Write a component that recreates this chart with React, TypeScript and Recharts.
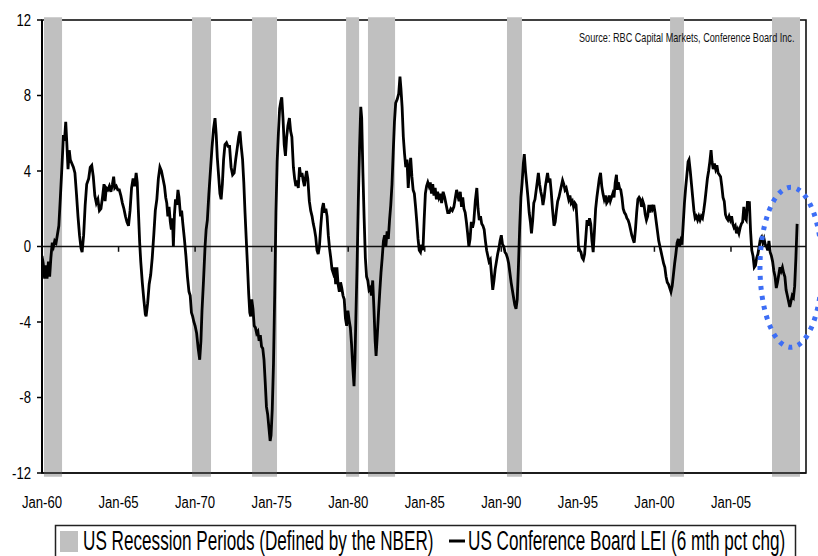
import {
  Line,
  LineChart,
  ReferenceArea,
  ReferenceDot,
  ReferenceLine,
  XAxis,
  YAxis,
} from 'recharts';

// month positions as decimal years
const dates = [
  1960.0, 1960.08, 1960.17, 1960.25, 1960.33, 1960.42, 1960.5, 1960.58, 1960.67, 1960.75, 1960.83, 1960.92,
  1961.0, 1961.1, 1961.2, 1961.3, 1961.4, 1961.47, 1961.55, 1961.62, 1961.7, 1961.78, 1961.85, 1961.95,
  1962.05, 1962.15, 1962.25, 1962.35, 1962.45, 1962.55, 1962.62, 1962.72, 1962.82, 1962.92,
  1963.05, 1963.15, 1963.25, 1963.35, 1963.45, 1963.55, 1963.65, 1963.75, 1963.85, 1963.95,
  1964.05, 1964.12, 1964.2, 1964.3, 1964.4, 1964.5, 1964.6, 1964.68, 1964.75, 1964.85, 1964.95,
  1965.05, 1965.15, 1965.25, 1965.35, 1965.45, 1965.55, 1965.65, 1965.75, 1965.85, 1965.95,
  1966.05, 1966.15, 1966.22, 1966.3, 1966.38, 1966.45, 1966.55, 1966.65, 1966.75, 1966.8, 1966.9,
  1967.0, 1967.1, 1967.2, 1967.3, 1967.4, 1967.5, 1967.6, 1967.7, 1967.8, 1967.9,
  1968.0, 1968.08, 1968.15, 1968.22, 1968.3, 1968.38, 1968.45, 1968.52, 1968.58, 1968.65, 1968.72, 1968.8, 1968.88, 1968.95,
  1969.05, 1969.12, 1969.2, 1969.3, 1969.4, 1969.5, 1969.6, 1969.68, 1969.76, 1969.84, 1969.92,
  1970.0, 1970.1, 1970.2, 1970.3, 1970.38, 1970.45, 1970.55, 1970.65, 1970.72, 1970.8, 1970.9,
  1971.0, 1971.1, 1971.2, 1971.3, 1971.38, 1971.45, 1971.55, 1971.62, 1971.7, 1971.78, 1971.86, 1971.95,
  1972.05, 1972.15, 1972.25, 1972.35, 1972.45, 1972.55, 1972.65, 1972.75, 1972.85, 1972.93,
  1973.0, 1973.1, 1973.18, 1973.26, 1973.34, 1973.42, 1973.5, 1973.57, 1973.63, 1973.7, 1973.78, 1973.86, 1973.94,
  1974.02, 1974.1, 1974.18, 1974.26, 1974.34, 1974.42, 1974.5, 1974.58, 1974.66, 1974.74, 1974.82, 1974.9, 1974.96,
  1975.04, 1975.12, 1975.2, 1975.28, 1975.36, 1975.44, 1975.52, 1975.6, 1975.66, 1975.74, 1975.82, 1975.9, 1975.98,
  1976.06, 1976.16, 1976.24, 1976.32, 1976.42, 1976.5, 1976.58, 1976.66, 1976.74, 1976.82, 1976.9, 1976.98,
  1977.06, 1977.14, 1977.2, 1977.28, 1977.36, 1977.46, 1977.55, 1977.64, 1977.72, 1977.8, 1977.88, 1977.96,
  1978.04, 1978.12, 1978.2, 1978.3, 1978.38, 1978.46, 1978.54, 1978.62, 1978.7, 1978.78, 1978.86, 1978.94,
  1979.02, 1979.1, 1979.18, 1979.26, 1979.34, 1979.42, 1979.5, 1979.58, 1979.66, 1979.74, 1979.82, 1979.9, 1979.98,
  1980.06, 1980.14, 1980.22, 1980.3, 1980.38, 1980.44, 1980.5, 1980.58, 1980.66, 1980.74, 1980.82, 1980.88, 1980.96,
  1981.04, 1981.12, 1981.2, 1981.28, 1981.36, 1981.44, 1981.52, 1981.6, 1981.68, 1981.76, 1981.82, 1981.9, 1981.98,
  1982.06, 1982.14, 1982.22, 1982.3, 1982.38, 1982.46, 1982.54, 1982.62, 1982.7, 1982.78, 1982.86, 1982.94,
  1983.02, 1983.1, 1983.2, 1983.3, 1983.38, 1983.44, 1983.52, 1983.6, 1983.68, 1983.76, 1983.84, 1983.92,
  1984.0, 1984.08, 1984.16, 1984.24, 1984.32, 1984.4, 1984.48, 1984.56, 1984.64, 1984.72, 1984.8, 1984.88, 1984.96,
  1985.04, 1985.12, 1985.2, 1985.28, 1985.36, 1985.44, 1985.52, 1985.6, 1985.68, 1985.76, 1985.84, 1985.92,
  1986.0, 1986.1, 1986.2, 1986.3, 1986.4, 1986.5, 1986.6, 1986.7, 1986.8, 1986.9,
  1987.0, 1987.08, 1987.16, 1987.24, 1987.32, 1987.4, 1987.48, 1987.56, 1987.64, 1987.72, 1987.8, 1987.88, 1987.96,
  1988.04, 1988.12, 1988.2, 1988.3, 1988.4, 1988.48, 1988.56, 1988.64, 1988.72, 1988.8, 1988.88, 1988.96,
  1989.04, 1989.12, 1989.2, 1989.28, 1989.36, 1989.44, 1989.52, 1989.6, 1989.68, 1989.76, 1989.84, 1989.92,
  1990.0, 1990.08, 1990.16, 1990.24, 1990.32, 1990.4, 1990.48, 1990.56, 1990.64, 1990.72, 1990.8, 1990.88, 1990.96,
  1991.04, 1991.12, 1991.2, 1991.28, 1991.36, 1991.44, 1991.5, 1991.58, 1991.66, 1991.74, 1991.82, 1991.9, 1991.97,
  1992.05, 1992.12, 1992.2, 1992.28, 1992.36, 1992.42, 1992.5, 1992.58, 1992.66, 1992.72, 1992.8, 1992.88, 1992.96,
  1993.02, 1993.1, 1993.18, 1993.26, 1993.34, 1993.44, 1993.52, 1993.6, 1993.68, 1993.76, 1993.84, 1993.92,
  1994.0, 1994.08, 1994.16, 1994.24, 1994.32, 1994.4, 1994.48, 1994.56, 1994.64, 1994.72, 1994.8, 1994.88, 1994.96,
  1995.04, 1995.12, 1995.2, 1995.28, 1995.36, 1995.44, 1995.52, 1995.6, 1995.68, 1995.76, 1995.84, 1995.92,
  1996.0, 1996.08, 1996.16, 1996.24, 1996.32, 1996.4, 1996.48, 1996.56, 1996.64, 1996.72, 1996.8, 1996.88, 1996.96,
  1997.04, 1997.12, 1997.2, 1997.28, 1997.36, 1997.44, 1997.52, 1997.58, 1997.64, 1997.72, 1997.8, 1997.88, 1997.96,
  1998.04, 1998.12, 1998.2, 1998.28, 1998.36, 1998.44, 1998.52, 1998.6, 1998.68, 1998.76, 1998.84, 1998.92,
  1999.0, 1999.08, 1999.16, 1999.24, 1999.32, 1999.4, 1999.48, 1999.56, 1999.64, 1999.72, 1999.8, 1999.88, 1999.96,
  2000.04, 2000.12, 2000.2, 2000.28, 2000.36, 2000.44, 2000.52, 2000.6, 2000.68, 2000.76, 2000.84, 2000.92,
  2001.0, 2001.08, 2001.16, 2001.24, 2001.32, 2001.4, 2001.48, 2001.56, 2001.64, 2001.72, 2001.8, 2001.88, 2001.96,
  2002.04, 2002.12, 2002.2, 2002.26, 2002.34, 2002.42, 2002.5, 2002.58, 2002.66, 2002.74, 2002.82, 2002.9, 2002.98,
  2003.06, 2003.14, 2003.22, 2003.3, 2003.38, 2003.46, 2003.54, 2003.62, 2003.7, 2003.76, 2003.84, 2003.92,
  2004.0, 2004.08, 2004.16, 2004.24, 2004.32, 2004.4, 2004.48, 2004.56, 2004.64, 2004.72, 2004.8, 2004.88, 2004.96,
  2005.04, 2005.12, 2005.2, 2005.28, 2005.36, 2005.44, 2005.52, 2005.6, 2005.68, 2005.76, 2005.84, 2005.92,
  2006.0, 2006.08, 2006.14, 2006.2, 2006.28, 2006.36, 2006.44, 2006.52, 2006.6, 2006.68, 2006.76, 2006.84, 2006.92,
  2007.0, 2007.08, 2007.16, 2007.24, 2007.32, 2007.4, 2007.48, 2007.56, 2007.64, 2007.72, 2007.8, 2007.88, 2007.96,
  2008.04, 2008.12, 2008.2, 2008.28, 2008.36, 2008.44, 2008.52, 2008.6, 2008.68, 2008.76, 2008.84, 2008.92,
  2009.0, 2009.08, 2009.16, 2009.24, 2009.32,
];

// US Conference Board LEI, 6 month % change
const lei = [
  -0.5, -0.9, -1.7, -1.0, -1.7, -0.8, -1.6, -0.6, 0.2, 0.0, 0.3, 0.2,
  0.6, 1.1, 2.6, 4.2, 5.9, 5.6, 6.6, 5.5, 4.1, 5.1, 4.6, 4.4,
  4.2, 3.9, 2.8, 1.6, 0.6, -0.1, -0.3, 0.6, 2.2, 3.3,
  3.6, 4.2, 4.3, 3.7, 2.7, 2.3, 2.5, 1.9, 2.0, 2.6,
  3.3, 2.4, 3.1, 3.0, 3.2, 2.9, 3.3, 3.7, 3.1, 3.2, 3.0,
  3.0, 2.7, 2.3, 2.0, 1.6, 1.3, 1.1, 1.9, 3.1, 3.6,
  3.2, 3.9, 3.4, 1.8, 0.2, -0.8, -1.9, -2.8, -3.6, -3.7, -3.0,
  -2.0, -1.5, -0.6, 0.6, 1.9, 2.5, 3.6, 4.2, 4.0, 3.6,
  3.2, 2.6, 2.3, 1.6, 2.1, 1.3, 0.9, 1.5, 0.0, 1.7, 2.5, 2.2, 3.0, 2.6,
  1.6, 1.9, 1.2, 0.4, -0.5, -1.6, -2.4, -2.6, -3.5, -3.7, -4.0,
  -4.2, -4.6, -5.4, -6.0, -5.0, -3.4, -1.8, 0.0, 0.9, 1.4, 2.8,
  4.0, 5.2, 6.2, 6.8, 5.9, 4.7, 3.6, 2.8, 2.5, 3.3, 4.6, 5.4,
  5.5, 5.3, 5.3, 4.2, 3.8, 3.9, 4.6, 5.2, 5.8, 6.1,
  5.4, 4.6, 3.4, 1.8, 0.4, -1.0, -2.5, -3.5, -3.7, -2.8, -3.3, -4.2, -4.3,
  -4.6, -4.5, -5.0, -4.7, -5.3, -5.4, -6.0, -7.2, -8.5, -8.9, -9.6, -10.3, -10.0,
  -8.6, -6.2, -2.5, 1.8, 4.5, 6.0, 7.3, 7.7, 7.9, 6.8, 5.4, 4.8, 5.8,
  6.4, 6.8, 6.1, 5.8, 4.2, 3.6, 3.2, 3.5, 3.1, 4.2, 3.7, 3.9,
  3.5, 3.2, 3.6, 4.0, 3.6, 2.4, 1.9, 1.6, 1.2, 0.9, 0.5, -0.2,
  -0.4, 0.0, 1.0, 2.0, 2.3, 1.8, 2.0, 1.6, 0.6, -0.1, -0.6, -1.2,
  -1.4, -1.1, -2.0, -1.1, -2.0, -2.4, -1.9, -2.2, -2.6, -2.8, -3.8, -4.2, -3.4,
  -3.9, -4.3, -5.2, -6.4, -7.4, -6.0, -3.8, -1.0, 2.4, 5.2, 7.4, 6.8, 3.9,
  1.5, -0.6, -1.6, -1.8, -2.3, -2.2, -2.6, -1.8, -3.3, -5.0, -5.8, -4.7, -3.5,
  -2.4, -1.4, -0.6, 0.3, 0.6, 0.0, 0.8, 0.4, 1.4, 2.2, 3.3, 5.0,
  6.6, 7.6, 7.8, 8.1, 9.0, 8.4, 7.4, 5.8, 4.9, 4.2, 4.6, 3.1,
  4.1, 4.7, 3.7, 3.0, 2.8, 2.1, 1.3, 0.4, -0.2, -0.3, 0.1, -0.2, 1.4,
  2.8, 3.2, 3.4, 3.2, 3.4, 2.8, 3.3, 2.7, 3.1, 2.5, 2.9, 2.6,
  2.8, 2.3, 2.9, 2.6, 2.2, 1.8, 1.8, 2.0, 1.9, 2.1,
  2.6, 3.0, 2.7, 2.4, 2.9, 2.1, 2.6, 2.0, 1.8, 1.3, 0.7, 0.0, 0.4,
  1.3, 1.0, 1.3, 2.4, 3.1, 2.0, 1.4, 1.6, 1.2, 1.1, 0.9, 0.3,
  -0.2, -0.5, -0.8, -0.7, -1.5, -2.3, -1.8, -1.2, -0.8, -0.4, -0.1, 0.3,
  0.6, 0.1, 0.0, -0.3, -0.4, -0.6, -0.9, -1.4, -1.9, -2.3, -2.7, -3.1, -3.3,
  -2.8, -1.0, 1.0, 2.6, 3.4, 4.4, 4.9, 4.0, 3.3, 2.6, 1.8, 1.3, 0.7,
  1.4, 2.3, 2.5, 3.0, 3.5, 3.9, 3.3, 2.9, 2.6, 2.2, 2.6, 3.2, 3.6,
  3.9, 3.4, 3.6, 2.9, 2.0, 1.1, 1.3, 1.9, 2.4, 2.6, 2.9, 3.2,
  3.5, 3.3, 3.0, 3.1, 2.8, 2.5, 2.7, 2.3, 2.4, 2.1, 2.3, 2.2, 1.2,
  0.0, -0.2, -0.3, -0.6, -0.7, -0.4, 0.5, 1.4, 1.1, 1.5, 1.2, 0.3,
  -0.3, 0.8, 2.0, 2.6, 3.1, 3.6, 3.9, 3.2, 2.8, 2.5, 2.7, 2.3, 2.4,
  2.7, 2.4, 2.6, 2.8, 2.6, 3.4, 3.8, 3.0, 3.4, 3.1, 3.0, 2.6, 2.0,
  1.8, 1.7, 1.5, 1.4, 1.2, 0.9, 0.6, 0.4, 0.2, 0.9, 1.8, 2.5,
  2.6, 2.5, 2.1, 2.4, 2.2, 1.7, 1.4, 1.6, 2.2, 1.8, 2.2, 2.0, 2.2,
  1.8, 1.3, 0.8, 0.3, 0.0, -0.3, -0.6, -0.9, -1.1, -1.6, -1.9, -2.0,
  -2.2, -2.4, -2.1, -1.5, -0.9, -0.4, 0.2, 0.4, 0.0, 0.3, 0.1, 1.2, 2.3,
  3.1, 3.8, 4.5, 4.6, 4.0, 3.3, 2.6, 1.9, 1.5, 1.6, 1.4, 1.6, 1.4,
  1.6, 1.5, 1.9, 2.4, 3.0, 3.6, 4.0, 4.5, 5.1, 4.5, 4.1, 4.4,
  4.1, 4.3, 3.9, 3.8, 3.7, 3.2, 2.6, 2.4, 1.7, 1.5, 1.4, 1.6, 1.4,
  1.6, 1.2, 1.0, 1.1, 0.7, 0.9, 0.7, 1.0, 1.2, 1.3, 2.1, 1.5,
  1.4, 2.4, 1.9, 2.4, 0.8, -0.2, -0.5, -1.1, -1.0, -0.6, -0.4, 0.0, 0.4,
  0.5, 0.2, 0.4, 0.1, 0.0, -0.2, 0.3, -0.3, -0.5, -0.8, -1.3, -1.6, -2.2,
  -1.9, -1.5, -1.1, -1.3, -1.1, -1.4, -1.6, -2.3, -2.6, -2.9, -3.2, -2.9,
  -2.6, -2.7, -2.1, -0.6, 1.2,
];

// NBER recession bands as drawn (decimal years)
const recessionStart = [1960.13, 1969.8, 1973.72, 1979.86, 1981.29, 1990.37, 2001.02, 2007.68];
const recessionEnd = [1961.31, 1971.04, 1975.35, 1980.71, 1983.06, 1991.35, 2001.93, 2009.51];

const xTicks = [1960, 1965, 1970, 1975, 1980, 1985, 1990, 1995, 2000, 2005];
const yTicks = [-12, -8, -4, 0, 4, 8, 12];

const X_MIN = 1960;
const X_MAX = 2009.9;

const W = 818;
const H = 556;
const MARGIN = { top: 20, right: 12, left: 0, bottom: 53 };
const Y_AXIS_W = 42;
const X_AXIS_H = 30;

const sans = '"Liberation Sans", Arial, sans-serif';

const chartData = dates.map((t, i) => ({ t, lei: lei[i] }));

// plot box, from the chart's own margins and axis sizes
const plotLeft = MARGIN.left + Y_AXIS_W;
const plotTop = MARGIN.top;
const plotRight = W - MARGIN.right;
const plotBottom = H - MARGIN.bottom - X_AXIS_H;

// Arial squeezed to look like Arial Narrow
function NarrowTick(props: any) {
  const { x, y, payload, textAnchor, verticalAnchor, isX } = props;
  const v = payload.value as number;
  const label = isX ? 'Jan-' + String(v).slice(2) : String(v);
  const dy = verticalAnchor === 'start' ? '0.71em' : verticalAnchor === 'end' ? '0' : '0.355em';
  return (
    <text
      transform={`translate(${x},${y}) scale(0.82,1)`}
      textAnchor={textAnchor}
      dy={dy}
      fontFamily={sans}
      fontSize={16}
      fill="#000"
    >
      {label}
    </text>
  );
}

export default function App() {
  return (
    <div style={{ position: 'absolute', left: 0, top: 0, width: W, height: H, background: '#fff' }}>
      {/* frame behind the chart so the recession bands sit on top of it */}
      <svg width={W} height={H} style={{ position: 'absolute', left: 0, top: 0 }}>
        <rect
          x={plotLeft}
          y={plotTop}
          width={plotRight - plotLeft}
          height={plotBottom - plotTop}
          fill="none"
          stroke="#111"
          strokeWidth={1.6}
        />
      </svg>
      <div style={{ position: 'absolute', left: 0, top: 0 }}>
        <LineChart width={W} height={H} data={chartData} margin={MARGIN}>
          <XAxis
            dataKey="t"
            type="number"
            domain={[X_MIN, X_MAX]}
            ticks={xTicks}
            interval={0}
            allowDataOverflow
            axisLine={{ stroke: '#111', strokeWidth: 1.5 }}
            tickLine={false}
            tickMargin={18}
            height={X_AXIS_H}
            tick={(p: any) => <NarrowTick {...p} isX />}
          />
          <YAxis
            type="number"
            domain={[-12, 12]}
            ticks={yTicks}
            interval={0}
            width={Y_AXIS_W}
            tickSize={5}
            tickMargin={6}
            axisLine={{ stroke: '#000', strokeWidth: 2 }}
            tickLine={{ stroke: '#000', strokeWidth: 1.5 }}
            tick={(p: any) => <NarrowTick {...p} />}
          />
          {recessionStart.map((s, i) => (
            <ReferenceArea
              key={s}
              x1={s}
              x2={recessionEnd[i]}
              y1={-12.2}
              y2={12.15}
              ifOverflow="visible"
              fill="#c0c0c0"
              fillOpacity={1}
              stroke="none"
            />
          ))}
          <ReferenceLine y={0} stroke="#111" strokeWidth={1.5} />
          {xTicks.slice(1).map((t) => (
            <ReferenceLine
              key={t}
              segment={[
                { x: t, y: 0 },
                { x: t, y: -0.28 },
              ]}
              stroke="#111"
              strokeWidth={1.5}
            />
          ))}
          <Line
            type="linear"
            dataKey="lei"
            stroke="#000"
            strokeWidth={2.8}
            dot={false}
            isAnimationActive={false}
          />
          <ReferenceDot
            x={2008.92}
            y={-1.1}
            ifOverflow="visible"
            shape={(p: any) => (
              <ellipse
                cx={p.cx}
                cy={p.cy}
                rx={31}
                ry={80}
                fill="none"
                stroke="#3d6ef5"
                strokeWidth={5}
                strokeDasharray="4 6"
              />
            )}
          />
        </LineChart>
      </div>

      <svg width={W} height={H} style={{ position: 'absolute', left: 0, top: 0, pointerEvents: 'none' }}>
        <text transform="translate(579,41.5) scale(0.73,1)" fontFamily={sans} fontSize={12.5} fill="#111">
          Source: RBC Capital Markets, Conference Board Inc.
        </text>
        <rect x={55.5} y={525.5} width={740} height={40} fill="#fff" stroke="#222" strokeWidth={1.5} />
        <rect x={60} y={531} width={18} height={21} fill="#c0c0c0" />
        <text transform="translate(83,550) scale(0.635,1)" fontFamily={sans} fontSize={27} fill="#000">
          US Recession Periods (Defined by the NBER)
        </text>
        <line x1={449} y1={541} x2={465} y2={541} stroke="#000" strokeWidth={3} />
        <text transform="translate(468,550) scale(0.635,1)" fontFamily={sans} fontSize={27} fill="#000">
          US Conference Board LEI (6 mth pct chg)
        </text>
      </svg>
    </div>
  );
}
